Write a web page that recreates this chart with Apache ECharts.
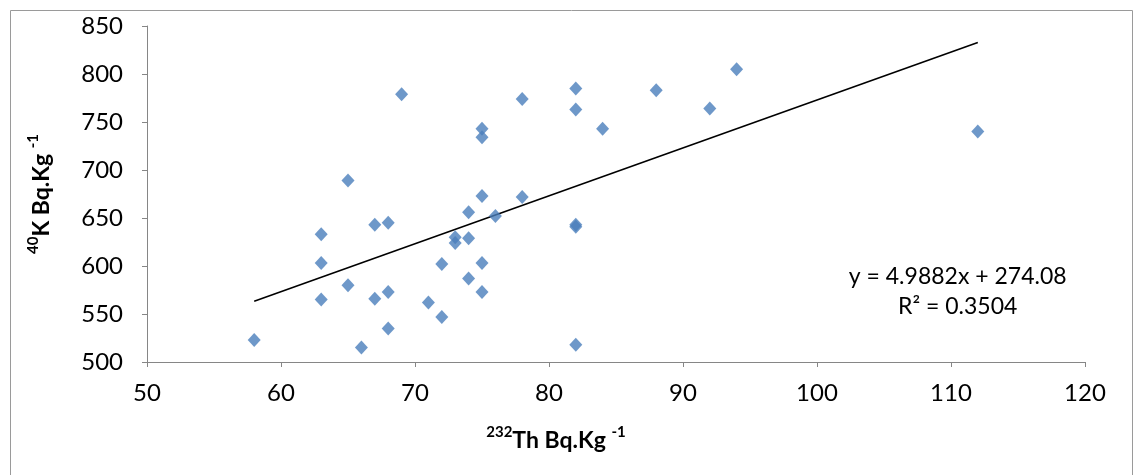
<!DOCTYPE html>
<html>
<head>
<meta charset="utf-8">
<script src="https://cdn.jsdelivr.net/npm/echarts@6/dist/echarts.min.js"></script>
<style>
html,body{margin:0;padding:0;background:#fff;}
#chart{width:1136px;height:475px;}
</style>
</head>
<body>
<div id="chart"></div>
<script>
// 232Th activity (x) and 40K activity (y), Bq/kg
const thValues = [58,63,63,63,65,65,66,67,67,68,68,68,69,71,72,72,73,73,74,74,74,75,75,75,75,75,76,78,78,82,82,82,82,82,84,88,92,94,112];
const kValues  = [523,633,603,565,689,580,515,643,566,645,573,535,779,562,602,547,630,624,656,629,587,743,734,673,603,573,652,774,672,785,763,643,641,518,743,783,764,805,740];
// linear trend line end points (y = 4.9882x + 274.08)
const trendX = [58, 112];
const trendY = [563.4, 832.8];
const equationText = 'y = 4.9882x + 274.08';
const r2Text = 'R² = 0.3504';
const xTicks = {min: 50, max: 120, interval: 10};
const yTicks = {min: 500, max: 850, interval: 50};

const FONT = 'Lato';
const chart = echarts.init(document.getElementById('chart'));
const points = thValues.map((x, i) => [x, kValues[i]]);
const trend = trendX.map((x, i) => [x, trendY[i]]);

const axisCommon = {
  axisLine: {show: true, lineStyle: {color: '#868686', width: 1}},
  axisTick: {show: true, inside: false, length: 5, lineStyle: {color: '#868686'}},
  splitLine: {show: false},
  axisLabel: {color: '#000', fontFamily: FONT, fontSize: 24}
};
const titleRich = {
  b: {fontFamily: FONT, fontWeight: 'bold', fontSize: 23, color: '#000', lineHeight: 27, verticalAlign: 'bottom'},
  sup: {fontFamily: FONT, fontWeight: 'bold', fontSize: 15, color: '#000', lineHeight: 27, verticalAlign: 'top'}
};

chart.setOption({
  animation: false,
  backgroundColor: '#fff',
  grid: {left: 147, right: 51, top: 26, bottom: 113},
  xAxis: Object.assign({}, axisCommon, {
    type: 'value', min: xTicks.min, max: xTicks.max, interval: xTicks.interval,
    axisLabel: Object.assign({}, axisCommon.axisLabel, {margin: 19}),
    name: '{sup|232}{b|Th Bq.Kg }{sup|-1}',
    nameLocation: 'middle', nameGap: 63,
    nameTextStyle: {padding: [0, 120, 0, 0], rich: titleRich}
  }),
  yAxis: Object.assign({}, axisCommon, {
    type: 'value', min: yTicks.min, max: yTicks.max, interval: yTicks.interval,
    axisLabel: Object.assign({}, axisCommon.axisLabel, {margin: 24}),
    name: '{sup|40}{b|K Bq.Kg }{sup|-1}',
    nameLocation: 'middle', nameGap: 94, nameRotate: 90,
    nameTextStyle: {rich: titleRich}
  }),
  graphic: [
    {type: 'rect', left: 8, top: 8, silent: true, z: -10,
      shape: {width: 1122, height: 470},
      style: {fill: 'none', stroke: '#9a9a9a', lineWidth: 1}}
  ],
  series: [
    {
      type: 'scatter', data: points, symbol: 'diamond', symbolSize: [13, 14],
      itemStyle: {color: '#4a7ebb'}, z: 3
    },
    {
      type: 'line', data: trend, symbol: 'none', silent: true,
      lineStyle: {color: '#000', width: 1.6}, z: 2,
      markPoint: {
        silent: true, symbol: 'rect', symbolSize: 1,
        itemStyle: {color: 'transparent'},
        data: [{
          coord: [110.5, 573],
          label: {
            show: true, position: 'inside', color: '#000', fontFamily: FONT, fontSize: 23,
            lineHeight: 30, align: 'center',
            formatter: equationText + '\n' + r2Text
          }
        }]
      }
    }
  ]
});
</script>
</body>
</html>
